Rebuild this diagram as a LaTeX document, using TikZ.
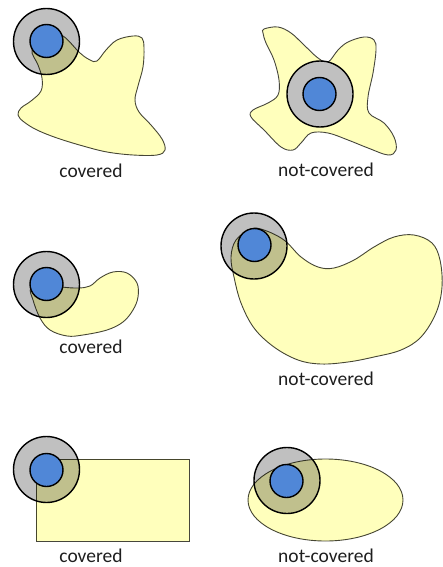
\documentclass[tikz,border=0pt]{standalone}
\usepackage{fontspec}
\setmainfont{Carlito}
\definecolor{grayc}{RGB}{192,192,192}
\definecolor{bluec}{RGB}{80,135,215}
\definecolor{yel}{RGB}{255,255,188}
\definecolor{edgec}{RGB}{70,70,60}
\definecolor{txtc}{RGB}{30,30,30}
\tikzset{
  ring/.style={fill=grayc, draw=black, line width=1.4},
  core/.style={fill=bluec, draw=black, line width=1.4},
  region/.style={fill=yel, draw=edgec, line width=0.9},
  lbl/.style={font=\fontsize{19.5}{23}\selectfont, text=txtc, anchor=base, inner sep=0},
}
\begin{document}
\begin{tikzpicture}[x=1pt,y=-1pt]
\useasboundingbox (0,0) rectangle (443,567);
% ---------- panel 1: covered (star) ----------
\draw[ring] (46.5,41.5) circle[radius=33];
\begin{scope}[blend mode=multiply]
\draw[region] plot[smooth cycle, tension=0.6] coordinates {
 (46,42) (61,35) (80,53) (90,60) (97,61) (106,50) (117,40) (133,36) (142,38) (144,48)
 (143,67) (138,86) (135,100) (139,112) (151,125) (162,139) (165,150) (157,155)
 (133,155) (107,152) (83,146) (57,138) (37,130) (24,122) (18,115) (21,108) (31,101)
 (41,91) (42,78) (38,65) (32,50)};
\end{scope}
\draw[core] (46.5,41) circle[radius=16.5];
\node[lbl] (t1) at (91,177) {covered};
% ---------- panel 2: not-covered (star) ----------
\draw[region] plot[smooth cycle, tension=0.6] coordinates {
 (264,29) (278,27) (291,33) (304,45) (318,58) (328,62) (338,50) (348,42) (364,37)
 (374,40) (376,50) (373,73) (368,97) (369,113) (384,123) (394,137) (396,150) (388,155)
 (368,148) (348,140) (328,133) (311,133) (301,143) (293,150) (281,147) (264,130)
 (251,117) (253,110) (268,103) (278,95) (279,80) (274,60) (266,43) (263,33)};
\draw[ring] (320,94) circle[radius=33];
\draw[core] (319.5,94) circle[radius=16.5];
\node[lbl] (t2) at (326,176) {not-covered};
% ---------- panel 3: covered (kidney) ----------
\draw[ring] (46.5,284.5) circle[radius=33];
\begin{scope}[blend mode=multiply]
\draw[region] plot[smooth cycle, tension=0.6] coordinates {
 (46,284) (62,287) (78,288) (90,286) (100,278) (113,272) (127,273) (137,283) (138,297)
 (133,310) (123,322) (107,330) (83,335) (67,336) (50,330) (40,318) (33,300) (31,288)};
\end{scope}
\draw[core] (46.5,284) circle[radius=16.5];
\node[lbl] (t3) at (91,353) {covered};
% ---------- panel 4: not-covered (big kidney) ----------
\draw[ring] (254,246) circle[radius=33];
\begin{scope}[blend mode=multiply]
\draw[region] plot[smooth cycle, tension=0.6] coordinates {
 (264,230) (284,240) (301,257) (318,267) (334,268) (354,260) (374,247) (394,237)
 (414,235) (432,243) (440,260) (442,287) (436,313) (421,337) (401,350) (374,357)
 (348,362) (321,364) (298,360) (274,347) (254,328) (241,303) (234,277) (231,257)
 (236,240) (251,229)};
\end{scope}
\draw[core] (254.5,245) circle[radius=16.5];
\node[lbl] (t4) at (326,385) {not-covered};
% ---------- panel 5: covered (rectangle) ----------
\draw[ring] (46.5,469.5) circle[radius=33];
\begin{scope}[blend mode=multiply]
\draw[region] (36,459) rectangle (189,541);
\end{scope}
\draw[core] (46.5,470) circle[radius=16.5];
\node[lbl] (t5) at (91,562) {covered};
% ---------- panel 6: not-covered (ellipse) ----------
\draw[ring] (287,480.5) circle[radius=33];
\begin{scope}[blend mode=multiply]
\draw[region] (325.5,500) ellipse[x radius=77.5, y radius=41];
\end{scope}
\draw[core] (286.5,481) circle[radius=16.5];
\node[lbl] (t6) at (326,562) {not-covered};
\end{tikzpicture}
\end{document}
